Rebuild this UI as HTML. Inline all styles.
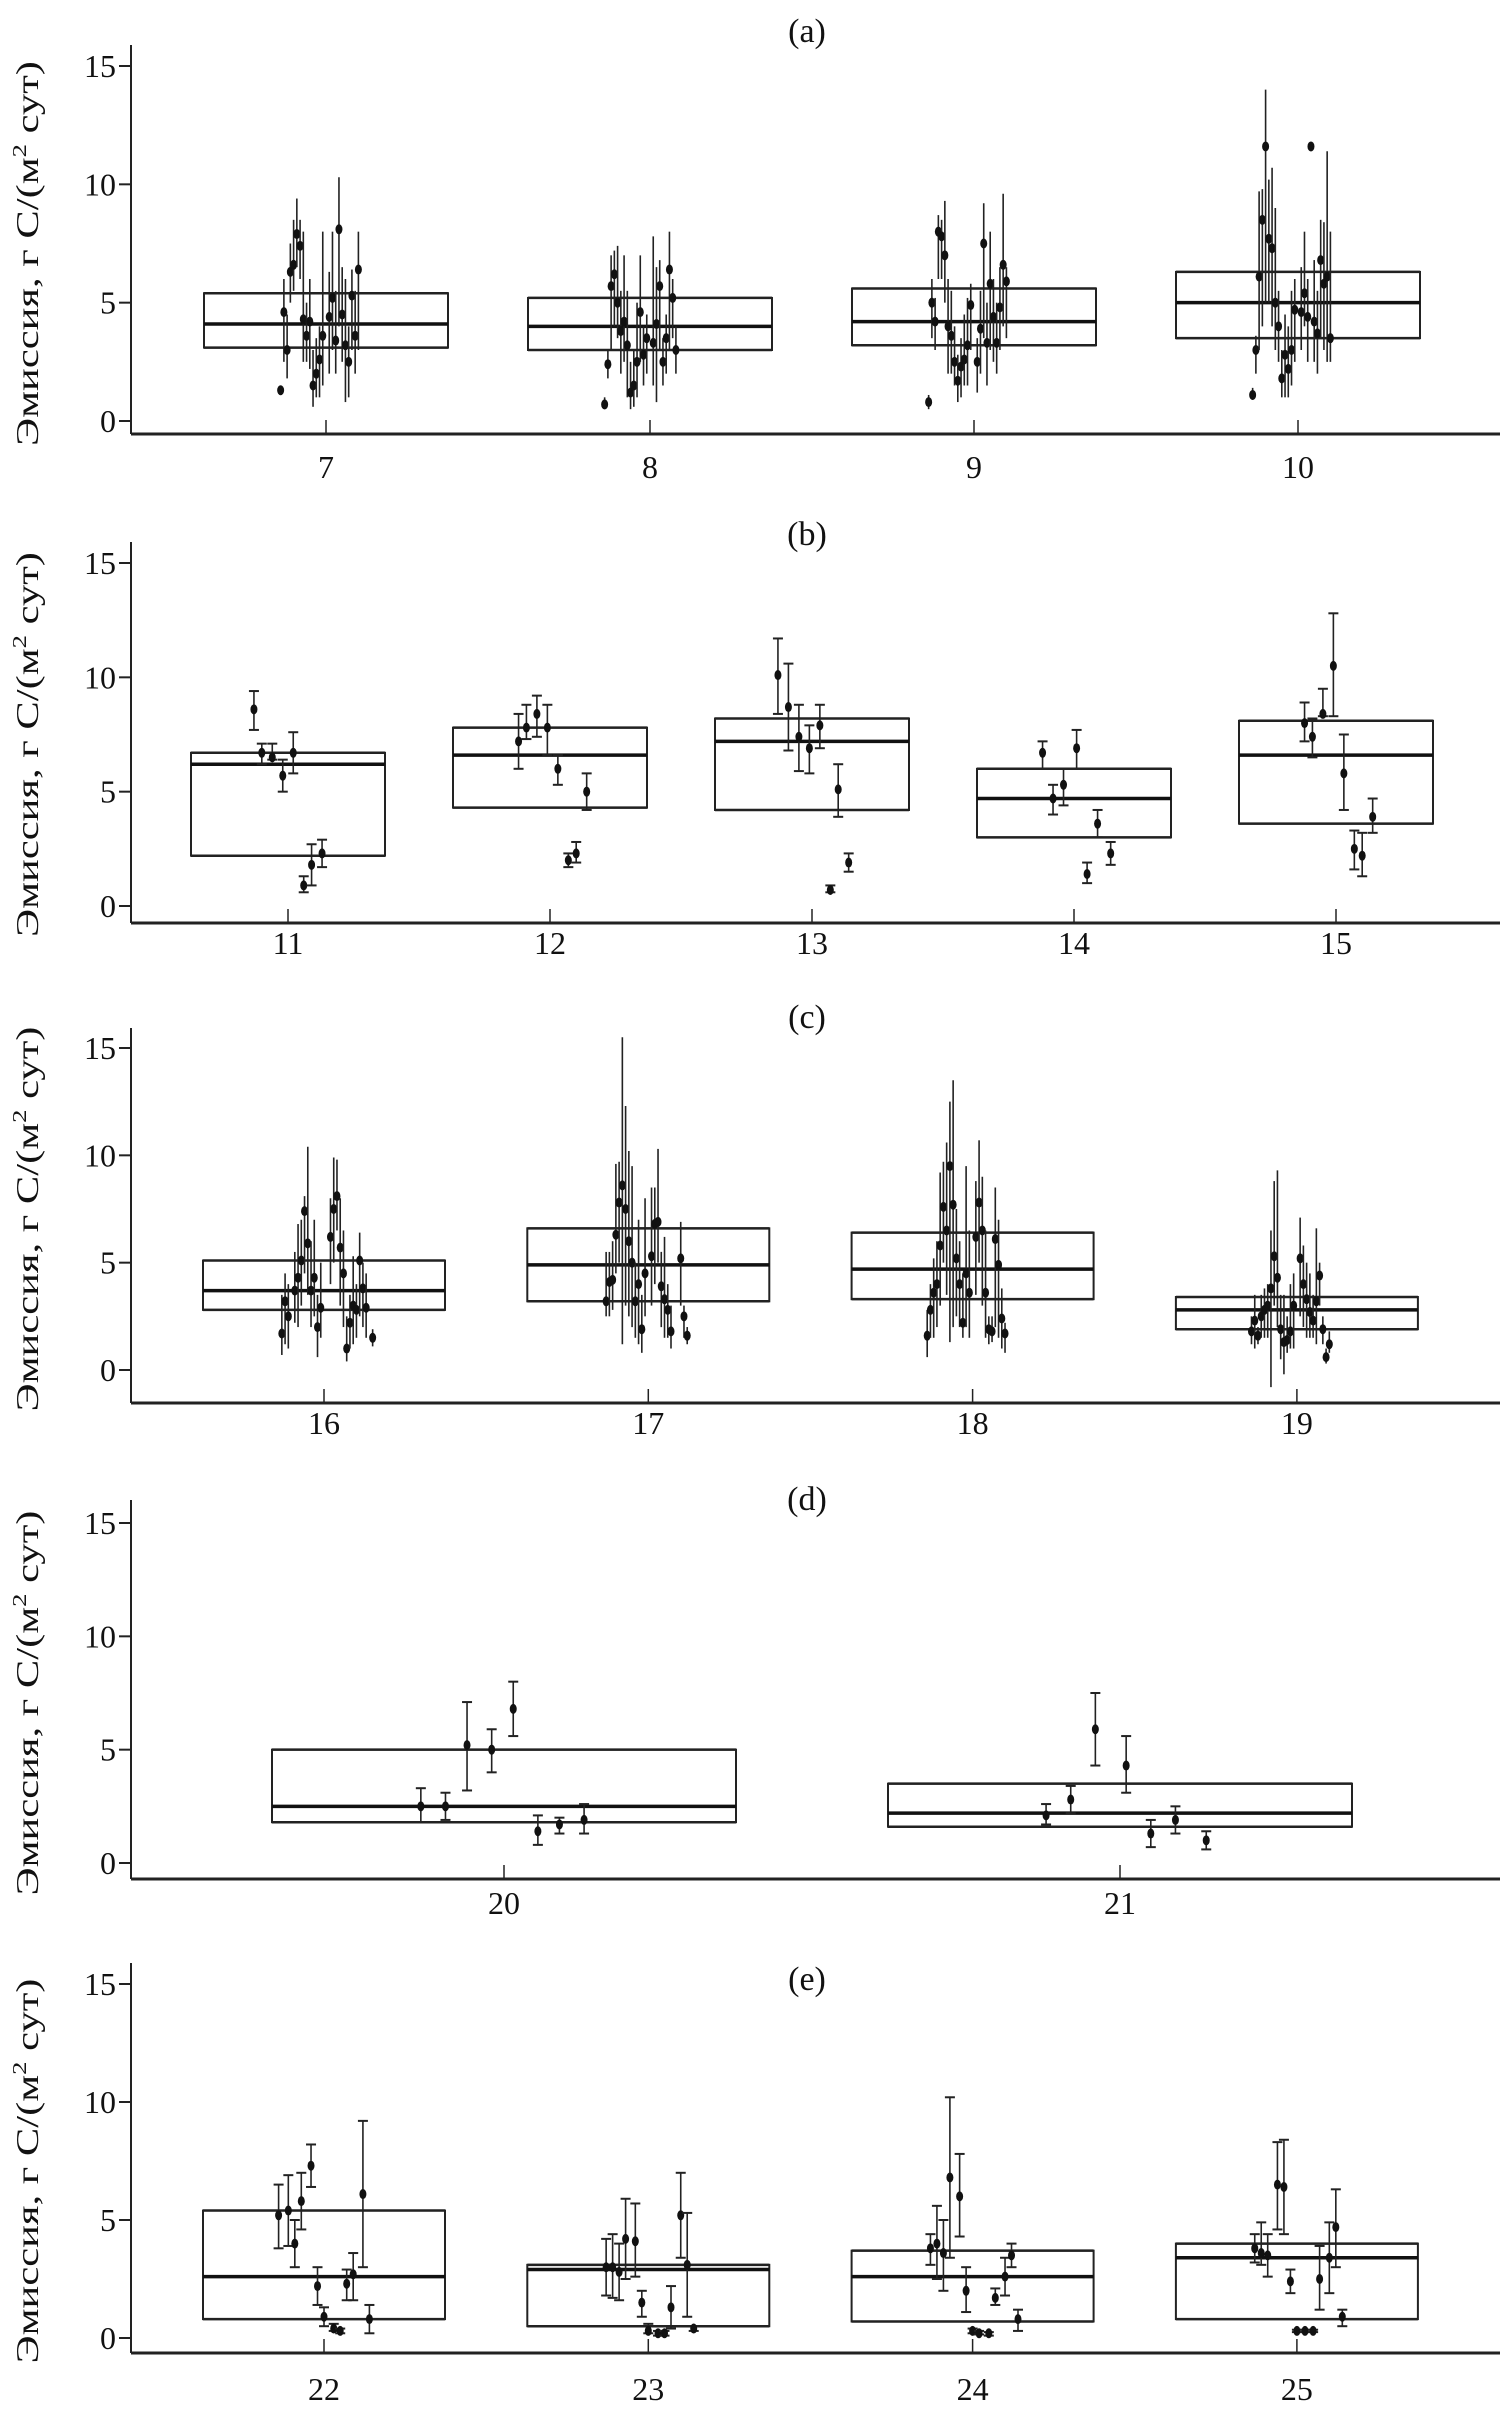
<!DOCTYPE html>
<html><head><meta charset="utf-8">
<style>
html,body{margin:0;padding:0;background:#fff;}
svg{display:block;}
text{font-family:"Liberation Serif",serif;fill:#111;}
</style></head>
<body>
<svg id="chart" width="1502" height="2412" viewBox="0 0 1502 2412" xmlns="http://www.w3.org/2000/svg"></svg>
<script>
// ---- data ----
const yTicks = [0, 5, 10, 15];
const catsA = [7, 8, 9, 10];
const catsB = [11, 12, 13, 14, 15];
const catsC = [16, 17, 18, 19];
const catsD = [20, 21];
const catsE = [22, 23, 24, 25];
// boxes: [q1, median, q3]
const boxesA = [[3.1,4.1,5.4],[3.0,4.0,5.2],[3.2,4.2,5.6],[3.5,5.0,6.3]];
const boxesB = [[2.2,6.2,6.7],[4.3,6.6,7.8],[4.2,7.2,8.2],[3.0,4.7,6.0],[3.6,6.6,8.1]];
const boxesC = [[2.8,3.7,5.1],[3.2,4.9,6.6],[3.3,4.7,6.4],[1.9,2.8,3.4]];
const boxesD = [[1.8,2.5,5.0],[1.6,2.2,3.5]];
const boxesE = [[0.8,2.6,5.4],[0.5,2.9,3.1],[0.7,2.6,3.7],[0.8,3.4,4.0]];
// points per category: [offset (category units), mean, low, high]
const pointsA = [
 [[-0.14,1.3,1.1,1.5],[-0.13,4.6,2.5,6],[-0.12,3.0,1.8,4.5],[-0.11,6.3,5,7.5],[-0.1,6.6,5.5,8.5],[-0.09,7.9,6.5,9.4],[-0.08,7.4,6,8.5],[-0.07,4.3,2.5,8],[-0.06,3.6,2.5,5],[-0.05,4.2,2.2,6],[-0.04,1.5,0.6,3],[-0.03,2.0,1,3.5],[-0.02,2.6,1,4],[-0.01,3.6,1.5,8],[0.01,4.4,2,6.3],[0.02,5.2,3,8],[0.03,3.4,2,5.5],[0.04,8.1,4,10.3],[0.05,4.5,2.5,6.5],[0.06,3.2,0.8,6],[0.07,2.5,1,4],[0.08,5.3,3,6.4],[0.09,3.6,2,5.5],[0.1,6.4,3,8]],
 [[-0.14,0.7,0.5,1.0],[-0.13,2.4,1.8,3.0],[-0.12,5.7,3.0,7.0],[-0.11,6.2,4.0,7.2],[-0.1,5.0,3.5,7.4],[-0.09,3.8,2.0,5.5],[-0.08,4.2,2.5,7.0],[-0.07,3.2,1.0,5.5],[-0.06,1.2,0.5,2.5],[-0.05,1.5,0.6,3.0],[-0.04,2.5,1.0,5.0],[-0.03,4.6,2.5,7.0],[-0.02,2.8,1.5,4.0],[-0.01,3.5,2.0,4.5],[0.01,3.3,1.5,7.8],[0.02,4.1,0.8,6.5],[0.03,5.7,3.0,6.8],[0.04,2.5,1.5,3.5],[0.05,3.5,2.0,4.5],[0.06,6.4,3.0,8.0],[0.07,5.2,3.5,6.0],[0.08,3.0,2.0,4.0]],
 [[-0.14,0.8,0.5,1.1],[-0.13,5.0,3.5,6.0],[-0.12,4.2,3.0,5.2],[-0.11,8.0,6.0,8.7],[-0.1,7.8,6.0,8.5],[-0.09,7.0,5.0,9.3],[-0.08,4.0,2.0,6.0],[-0.07,3.6,2.0,5.5],[-0.06,2.5,1.5,4.0],[-0.05,1.7,0.8,2.8],[-0.04,2.3,1.0,3.5],[-0.03,2.6,1.5,4.5],[-0.02,3.2,1.5,5.2],[-0.01,4.9,3.0,5.8],[0.01,2.5,1.2,3.5],[0.02,3.9,2.0,5.5],[0.03,7.5,3.5,9.2],[0.04,3.3,1.5,5.0],[0.05,5.8,3.0,8.0],[0.06,4.4,2.5,6.0],[0.07,3.3,2.0,5.0],[0.08,4.8,3.0,6.5],[0.09,6.6,4.0,9.6],[0.1,5.9,3.5,6.5]],
 [[-0.14,1.1,0.9,1.4],[-0.13,3.0,2.0,3.6],[-0.12,6.1,3.0,9.7],[-0.11,8.5,4.0,9.8],[-0.1,11.6,5.0,14.0],[-0.09,7.7,5.0,10.2],[-0.08,7.3,4.0,10.7],[-0.07,5.0,3.0,9.0],[-0.06,4.0,2.5,5.5],[-0.05,1.8,1.0,3.0],[-0.04,2.8,1.0,4.5],[-0.03,2.2,1.0,4.0],[-0.02,3.0,1.5,5.5],[-0.01,4.7,2.5,6.0],[0.01,4.6,3.0,6.5],[0.02,5.4,4.0,8.0],[0.03,4.4,2.5,6.0],[0.04,11.6,11.5,11.7],[0.05,4.2,2.5,6.8],[0.06,3.7,2.0,5.5],[0.07,6.8,3.5,8.5],[0.08,5.8,3.0,8.4],[0.09,6.1,2.5,11.4],[0.1,3.5,2.5,8.0]]
];
const pointsB = [
 [[-0.13,8.6,7.7,9.4],[-0.1,6.7,6.2,7.1],[-0.06,6.5,6.4,7.1],[-0.02,5.7,5.0,6.4],[0.02,6.7,5.8,7.6],[0.06,0.9,0.6,1.3],[0.09,1.8,0.9,2.7],[0.13,2.3,1.7,2.9]],
 [[-0.12,7.2,6.0,8.4],[-0.09,7.8,7.3,8.8],[-0.05,8.4,7.4,9.2],[-0.01,7.8,6.6,8.8],[0.03,6.0,5.3,6.6],[0.07,2.0,1.7,2.3],[0.1,2.3,1.9,2.8],[0.14,5.0,4.2,5.8]],
 [[-0.13,10.1,8.4,11.7],[-0.09,8.7,6.8,10.6],[-0.05,7.4,5.9,8.8],[-0.01,6.9,5.8,7.9],[0.03,7.9,6.9,8.8],[0.07,0.7,0.6,0.9],[0.1,5.1,3.9,6.2],[0.14,1.9,1.5,2.3]],
 [[-0.12,6.7,6.0,7.2],[-0.08,4.7,4.0,5.3],[-0.04,5.3,4.4,6.0],[0.01,6.9,6.0,7.7],[0.05,1.4,1.0,1.9],[0.09,3.6,3.0,4.2],[0.14,2.3,1.8,2.8]],
 [[-0.12,8.0,7.2,8.9],[-0.09,7.4,6.5,8.2],[-0.05,8.4,8.3,9.5],[-0.01,10.5,8.3,12.8],[0.03,5.8,4.2,7.5],[0.07,2.5,1.6,3.3],[0.1,2.2,1.3,3.2],[0.14,3.9,3.2,4.7]]
];
const pointsC = [
 [[-0.13,1.7,0.7,3.5],[-0.12,3.2,1.2,4.5],[-0.11,2.5,1.0,4.0],[-0.09,3.7,2.2,5.5],[-0.08,4.3,2.0,6.8],[-0.07,5.1,3.0,7.0],[-0.06,7.4,4.5,8.1],[-0.05,5.9,3.5,10.4],[-0.04,3.7,2.0,6.0],[-0.03,4.3,2.5,7.0],[-0.02,2.0,0.6,3.5],[-0.01,2.9,1.5,5.0],[0.02,6.2,4.0,8.0],[0.03,7.5,5.0,9.9],[0.04,8.1,6.5,9.8],[0.05,5.7,3.0,8.0],[0.06,4.5,2.0,6.5],[0.07,1.0,0.4,2.5],[0.08,2.2,1.0,3.5],[0.09,3.0,1.2,5.3],[0.1,2.8,1.5,4.0],[0.11,5.1,2.5,6.4],[0.12,3.8,2.0,5.0],[0.13,2.9,1.5,4.5],[0.15,1.5,1.1,1.9]],
 [[-0.13,3.2,2.5,5.5],[-0.12,4.1,2.5,5.5],[-0.11,4.2,2.8,6.0],[-0.1,6.3,4.5,9.6],[-0.09,7.8,5.0,9.7],[-0.08,8.6,1.2,15.5],[-0.07,7.5,3.0,12.3],[-0.06,6.0,2.5,10.2],[-0.05,5.0,2.0,9.5],[-0.04,3.2,1.5,5.0],[-0.03,4.0,1.2,7.0],[-0.02,1.9,0.8,3.5],[-0.01,4.5,2.5,8.0],[0.01,5.3,3.0,8.5],[0.02,6.8,4.0,8.5],[0.03,6.9,5.0,10.3],[0.04,3.9,2.0,5.5],[0.05,3.3,1.5,6.2],[0.06,2.8,1.5,4.0],[0.07,1.8,1.0,3.0],[0.1,5.2,3.0,6.9],[0.11,2.5,1.5,3.0],[0.12,1.6,1.2,2.0]],
 [[-0.14,1.6,0.6,2.8],[-0.13,2.8,1.5,4.0],[-0.12,3.6,1.5,5.2],[-0.11,4.0,2.0,6.0],[-0.1,5.8,3.0,9.2],[-0.09,7.6,5.0,9.7],[-0.08,6.5,3.5,10.6],[-0.07,9.5,1.3,12.5],[-0.06,7.7,2.0,13.5],[-0.05,5.2,2.5,7.5],[-0.04,4.0,2.0,6.0],[-0.03,2.2,1.5,4.5],[-0.02,4.5,2.0,9.5],[-0.01,3.6,1.5,6.5],[0.01,6.2,3.5,8.8],[0.02,7.8,5.0,10.7],[0.03,6.5,3.0,9.0],[0.04,3.6,1.5,6.5],[0.05,1.9,1.2,2.5],[0.06,1.8,1.3,2.5],[0.07,6.1,2.0,8.5],[0.08,4.9,1.5,7.0],[0.09,2.4,1.0,3.8],[0.1,1.7,0.8,2.2]],
 [[-0.14,1.8,1.2,2.5],[-0.13,2.3,1.0,3.5],[-0.12,1.6,1.2,2.0],[-0.11,2.5,1.5,3.5],[-0.1,2.8,1.5,3.8],[-0.09,3.0,1.5,4.0],[-0.08,3.8,-0.8,6.5],[-0.07,5.3,3.0,8.8],[-0.06,4.3,2.0,9.3],[-0.05,1.9,0.5,3.5],[-0.04,1.3,-0.2,3.5],[-0.03,1.4,0.8,2.5],[-0.02,1.8,1.0,4.0],[-0.01,3.0,1.0,4.5],[0.01,5.2,2.5,7.1],[0.02,4.0,2.0,5.8],[0.03,3.3,1.5,5.0],[0.04,2.7,1.5,4.5],[0.05,2.3,1.5,3.5],[0.06,3.2,1.2,6.6],[0.07,4.4,3.0,5.0],[0.08,1.9,1.2,2.5],[0.09,0.6,0.3,1.0],[0.1,1.2,0.8,1.8]]
];
const pointsD = [
 [[-0.135,2.5,1.8,3.3],[-0.095,2.5,1.9,3.1],[-0.06,5.2,3.2,7.1],[-0.02,5.0,4.0,5.9],[0.015,6.8,5.6,8.0],[0.055,1.4,0.8,2.1],[0.09,1.7,1.3,2.0],[0.13,1.9,1.3,2.6]],
 [[-0.12,2.1,1.7,2.6],[-0.08,2.8,2.2,3.4],[-0.04,5.9,4.3,7.5],[0.01,4.3,3.1,5.6],[0.05,1.3,0.7,1.9],[0.09,1.9,1.3,2.5],[0.14,1.0,0.6,1.4]]
];
const pointsE = [
 [[-0.14,5.2,3.8,6.5],[-0.11,5.4,3.9,6.9],[-0.09,4.0,3.0,5.0],[-0.07,5.8,4.6,7.0],[-0.04,7.3,6.4,8.2],[-0.02,2.2,1.4,3.0],[0,0.9,0.5,1.3],[0.03,0.4,0.3,0.6],[0.05,0.3,0.2,0.4],[0.07,2.3,1.6,2.9],[0.09,2.7,1.6,3.6],[0.12,6.1,3.0,9.2],[0.14,0.8,0.2,1.4]],
 [[-0.13,3.0,1.8,4.2],[-0.11,3.0,1.7,4.4],[-0.09,2.8,1.6,4.0],[-0.07,4.2,2.5,5.9],[-0.04,4.1,2.6,5.7],[-0.02,1.5,0.9,2.0],[0,0.3,0.2,0.6],[0.03,0.2,0.1,0.3],[0.05,0.2,0.1,0.3],[0.07,1.3,0.4,2.2],[0.1,5.2,3.4,7.0],[0.12,3.1,0.9,5.3],[0.14,0.4,0.3,0.5]],
 [[-0.13,3.8,3.1,4.4],[-0.11,4.0,2.5,5.6],[-0.09,3.6,2.0,5.0],[-0.07,6.8,3.4,10.2],[-0.04,6.0,4.3,7.8],[-0.02,2.0,1.1,3.0],[0,0.3,0.2,0.4],[0.02,0.2,0.15,0.3],[0.05,0.2,0.1,0.25],[0.07,1.7,1.4,2.1],[0.1,2.6,1.8,3.4],[0.12,3.5,3.0,4.0],[0.14,0.8,0.3,1.2]],
 [[-0.13,3.8,3.2,4.4],[-0.11,3.6,3.1,4.9],[-0.09,3.5,2.6,4.4],[-0.06,6.5,4.6,8.3],[-0.04,6.4,4.4,8.4],[-0.02,2.4,1.9,2.9],[0,0.3,0.25,0.35],[0.025,0.3,0.25,0.35],[0.05,0.3,0.25,0.35],[0.07,2.5,1.2,3.9],[0.1,3.4,1.9,4.9],[0.12,4.7,3.0,6.3],[0.14,0.9,0.5,1.2]]
];

// ---- layout ----
const NS = "http://www.w3.org/2000/svg";
const svg = document.getElementById('chart');
const panels = [
 {id:'a', cats:catsA, boxes:boxesA, pts:pointsA, caps:false, y15:66, y0:421, axisY:434, top:45, x0:326, step:324, half:122, titleY:42, labelY:478},
 {id:'b', cats:catsB, boxes:boxesB, pts:pointsB, caps:true, y15:563, y0:906, axisY:923, top:542, x0:288, step:262, half:97, titleY:545, labelY:954},
 {id:'c', cats:catsC, boxes:boxesC, pts:pointsC, caps:false, y15:1048, y0:1370, axisY:1403, top:1028, x0:324, step:324.3, half:121, titleY:1028, labelY:1434},
 {id:'d', cats:catsD, boxes:boxesD, pts:pointsD, caps:true, y15:1523, y0:1863, axisY:1879, top:1500, x0:504, step:616, half:232, titleY:1510, labelY:1914},
 {id:'e', cats:catsE, boxes:boxesE, pts:pointsE, caps:true, y15:1984, y0:2338, axisY:2353, top:1963, x0:324, step:324.3, half:121, titleY:1990, labelY:2400}
];
function el(tag, attrs, parent){
  const e = document.createElementNS(NS, tag);
  for (const k in attrs) e.setAttribute(k, attrs[k]);
  (parent||svg).appendChild(e);
  return e;
}
panels.forEach(p => {
  const g = el('g', {});
  
  
  const yS = v => p.y0 + (p.y15 - p.y0) * v / 15;
  const xS = (i, off) => p.x0 + (i + off) * p.step;
  const t = el('text', {x:807, y:p.titleY, 'font-size':34, 'text-anchor':'middle'}, g);
  t.textContent = '(' + p.id + ')';
  
  
  const ya = el('line', {x1:131, y1:p.top, x2:131, y2:p.axisY, stroke:'#222', 'stroke-width':2}, g);
  
  
  yTicks.forEach(v => {
    el('line', {x1:119, y1:yS(v), x2:131, y2:yS(v), stroke:'#222', 'stroke-width':2}, g);
    const tl = el('text', {x:116, y:yS(v)+11, 'font-size':32, 'text-anchor':'end'}, g);
    tl.textContent = v;
    
    
  });
  const yl = el('text', {x:0, y:0, 'font-size':32, 'text-anchor':'middle', textLength:385, lengthAdjust:'spacingAndGlyphs', transform:'translate(38,' + ((p.y0+p.y15)/2 + 10) + ') rotate(-90)'}, g);
  yl.innerHTML = 'Эмиссия, г С/(м<tspan font-size="20" dy="-12">2</tspan><tspan dy="12"> сут)</tspan>';
  
  
  const xa = el('line', {x1:131, y1:p.axisY, x2:1500, y2:p.axisY, stroke:'#222', 'stroke-width':3}, g);
  
  
  p.cats.forEach((c, i) => {
    const x = xS(i, 0);
    el('line', {x1:x, y1:p.axisY-14, x2:x, y2:p.axisY, stroke:'#222', 'stroke-width':1.5}, g);
    const xl = el('text', {x:x, y:p.labelY, 'font-size':32, 'text-anchor':'middle'}, g);
    xl.textContent = c;
    
    
    const b = p.boxes[i];
    const bx = el('rect', {x:x-p.half, y:yS(b[2]), width:2*p.half, height:yS(b[0])-yS(b[2]), fill:'none', stroke:'#222', 'stroke-width':2}, g);
    
    
    el('line', {x1:x-p.half, y1:yS(b[0]), x2:x+p.half, y2:yS(b[0]), stroke:'#222', 'stroke-width':2.5}, g);
    el('line', {x1:x-p.half, y1:yS(b[2]), x2:x+p.half, y2:yS(b[2]), stroke:'#222', 'stroke-width':2.5}, g);
    const md = el('line', {x1:x-p.half, y1:yS(b[1]), x2:x+p.half, y2:yS(b[1]), stroke:'#111', 'stroke-width':3.5}, g);
    
    
    p.pts[i].forEach(pt => {
      const px = xS(i, pt[0]);
      const eb = el('line', {x1:px, y1:yS(pt[2]), x2:px, y2:yS(pt[3]), stroke:'#222', 'stroke-width':1.6}, g);
      
      
      if (p.caps) {
        el('line', {x1:px-5, y1:yS(pt[2]), x2:px+5, y2:yS(pt[2]), stroke:'#222', 'stroke-width':2}, g);
        el('line', {x1:px-5, y1:yS(pt[3]), x2:px+5, y2:yS(pt[3]), stroke:'#222', 'stroke-width':2}, g);
      }
      const dot = el('ellipse', {cx:px, cy:yS(pt[1]), rx:3.5, ry:5, fill:'#111'}, g);
      
      
    });
  });
});
</script>
</body></html>
